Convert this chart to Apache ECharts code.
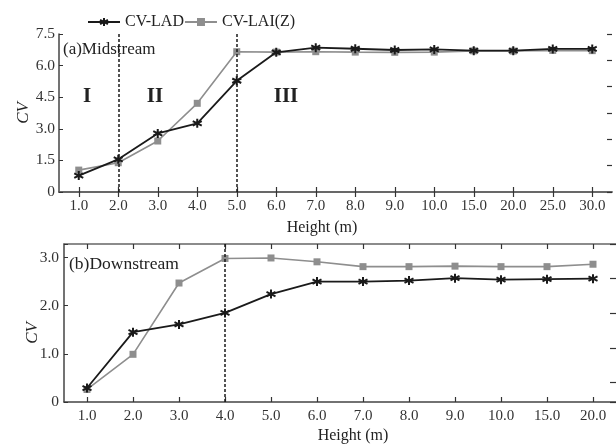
<!DOCTYPE html>
<html>
<head>
    <meta charset="UTF-8">
    <title>CV-LAD / CV-LAI(Z)</title>
    <script src="https://cdn.jsdelivr.net/npm/echarts@6/dist/echarts.min.js"></script>
</head>
<body style="margin: 0;padding: 0;">
    <div id="container" style="width:616px; height:444px;"></div>
    <script>
        // (a) 中游
        var heightsA = ['1.0', '2.0', '3.0', '4.0', '5.0', '6.0', '7.0', '8.0', '9.0', '10.0', '15.0', '20.0', '25.0', '30.0'];
        var ladA = [0.78, 1.55, 2.78, 3.26, 5.28, 6.63, 6.85, 6.80, 6.74, 6.77, 6.71, 6.71, 6.79, 6.79];
        var laiA = [1.04, 1.39, 2.42, 4.21, 6.66, 6.64, 6.66, 6.64, 6.63, 6.64, 6.70, 6.69, 6.72, 6.71];
        var splitsA = ['2.0', '5.0'];

        // (b) 下游
        var heightsB = ['1.0', '2.0', '3.0', '4.0', '5.0', '6.0', '7.0', '8.0', '9.0', '10.0', '15.0', '20.0'];
        var ladB = [0.29, 1.45, 1.61, 1.85, 2.24, 2.50, 2.50, 2.52, 2.57, 2.54, 2.55, 2.56];
        var laiB = [0.26, 0.99, 2.47, 2.98, 2.99, 2.91, 2.81, 2.81, 2.82, 2.81, 2.81, 2.86];
        var splitsB = ['4.0'];

        var serif = 'Liberation Serif';
        var star = 'path://M5,0L5,10M0.7,2.5L9.3,7.5M0.7,7.5L9.3,2.5';
        var dark = '#1a1a1a';
        var gray = '#8e8e8e';

        function cvLabel(v) {
            if (v === 0) return '0';
            if (Math.abs(v * 2 - Math.round(v * 2)) > 1e-6) return '';
            return v.toFixed(1);
        }

        function xAx(grid, cats, pos, showLabel, margin) {
            return {
                type: 'category', gridIndex: grid, data: cats, position: pos,
                boundaryGap: true,
                axisLine: { show: true, lineStyle: { color: pos === 'top' ? '#666' : '#444', width: 1.5 } },
                axisTick: { show: true, inside: true, alignWithLabel: true, length: 5, lineStyle: { color: '#333', width: 1.2 } },
                axisLabel: { show: showLabel, margin: margin, fontFamily: serif, fontSize: 15, color: '#333' },
                splitLine: { show: false }
            };
        }

        function lineSeries(name, data, grid, marks) {
            var isLad = name === 'CV-LAD';
            var s = {
                name: name, type: 'line', xAxisIndex: grid * 2, yAxisIndex: grid * 2,
                data: data,
                symbol: isLad ? star : 'rect',
                symbolSize: isLad ? 9 : 7,
                lineStyle: { color: isLad ? dark : gray, width: isLad ? 1.8 : 1.6 },
                itemStyle: isLad ? { color: dark, borderColor: dark, borderWidth: 2 } : { color: gray },
                z: isLad ? 3 : 2
            };
            if (marks) {
                s.markLine = {
                    silent: true, symbol: ['none', 'none'], label: { show: false },
                    lineStyle: { color: dark, type: [3, 2], width: 1.5 },
                    data: marks.map((m) => ({ xAxis: m }))
                };
            }
            return s;
        }

        var chart = echarts.init(document.getElementById('container'), null, { renderer: 'canvas' });
        var textStyle = (t, size, extra) => Object.assign({ text: t, fontFamily: serif, fontSize: size, fill: '#222' }, extra || {});

        var option = {
            animation: false,
            backgroundColor: '#fff',
            legend: {
                data: ['CV-LAD', 'CV-LAI(Z)'],
                left: 82, top: 9,
                itemWidth: 32, itemHeight: 10, itemGap: 0,
                textStyle: { fontFamily: serif, fontSize: 16, color: '#222' }
            },
            grid: [
                { left: 59, top: 34, width: 553, height: 158 },
                { left: 64, top: 244, width: 553, height: 158 }
            ],
            xAxis: [
                xAx(0, heightsA, 'bottom', true, 7),
                xAx(0, heightsA, 'top', false, 7),
                xAx(1, heightsB, 'bottom', true, 7),
                xAx(1, heightsB, 'top', false, 7)
            ],
            yAxis: [
                {
                    type: 'value', gridIndex: 0, min: 0, max: 7.5, interval: 1.5,
                    axisLine: { show: true, lineStyle: { color: '#444', width: 1.5 } },
                    axisTick: { show: true, inside: true, length: 4, lineStyle: { color: '#333' } },
                    axisLabel: { margin: 4, fontFamily: serif, fontSize: 15.5, color: '#333', formatter: cvLabel },
                    splitLine: { show: false }
                },
                {
                    type: 'value', gridIndex: 0, position: 'right', min: 0, max: 6, interval: 1,
                    axisLine: { show: false },
                    axisTick: { show: true, inside: true, length: 5, lineStyle: { color: '#333', width: 1.2 } },
                    axisLabel: { show: false }, splitLine: { show: false }
                },
                {
                    type: 'value', gridIndex: 1, min: 0, max: 3.28, interval: 1,
                    axisLine: { show: true, lineStyle: { color: '#444', width: 1.5 } },
                    axisTick: { show: true, inside: true, length: 4, lineStyle: { color: '#333' } },
                    axisLabel: { margin: 5, fontFamily: serif, fontSize: 15.5, color: '#333', formatter: cvLabel },
                    splitLine: { show: false }
                },
                {
                    type: 'value', gridIndex: 1, position: 'right', inverse: true, min: 0, max: 4.56, interval: 1,
                    axisLine: { show: false },
                    axisTick: { show: true, inside: true, length: 6, lineStyle: { color: '#333', width: 1.2 } },
                    axisLabel: { show: false }, splitLine: { show: false }
                }
            ],
            series: [
                lineSeries('CV-LAD', ladA, 0, splitsA),
                lineSeries('CV-LAI(Z)', laiA, 0, null),
                lineSeries('CV-LAD', ladB, 1, splitsB),
                lineSeries('CV-LAI(Z)', laiB, 1, null)
            ],
            graphic: [
                { type: 'text', x: 24, y: 113, rotation: Math.PI / 2, style: textStyle('CV', 17, { fontStyle: 'italic', align: 'center', verticalAlign: 'middle' }) },
                { type: 'text', x: 33, y: 333, rotation: Math.PI / 2, style: textStyle('CV', 17, { fontStyle: 'italic', align: 'center', verticalAlign: 'middle' }) },
                { type: 'text', x: 322, y: 228, style: textStyle('Height (m)', 16, { align: 'center', verticalAlign: 'middle' }) },
                { type: 'text', x: 353, y: 436, style: textStyle('Height (m)', 16, { align: 'center', verticalAlign: 'middle' }) },
                { type: 'text', x: 63, y: 50, style: textStyle('(a)Midstream', 17, { verticalAlign: 'middle' }) },
                { type: 'text', x: 69, y: 264, style: textStyle('(b)Downstream', 17.5, { verticalAlign: 'middle' }) },
                { type: 'text', x: 87, y: 97, style: textStyle('I', 21, { fontWeight: 'bold', align: 'center', verticalAlign: 'middle' }) },
                { type: 'text', x: 155, y: 97, style: textStyle('II', 21, { fontWeight: 'bold', align: 'center', verticalAlign: 'middle' }) },
                { type: 'text', x: 286, y: 97, style: textStyle('III', 21, { fontWeight: 'bold', align: 'center', verticalAlign: 'middle' }) }
            ]
        };
        chart.setOption(option);
    </script>
</body>
</html>
